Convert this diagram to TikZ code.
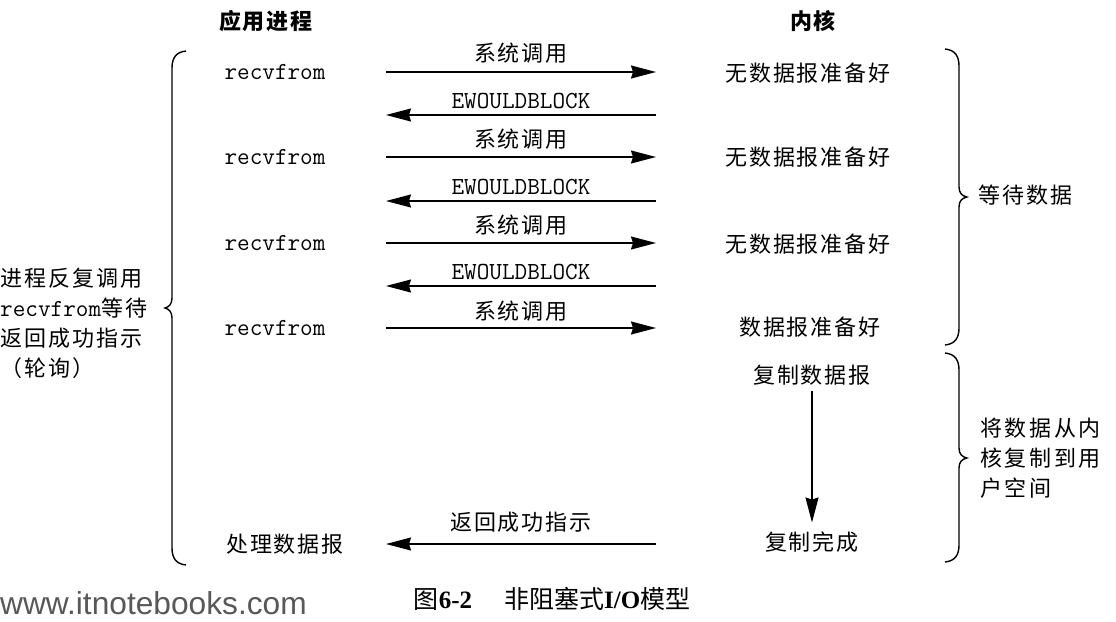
\documentclass[tikz,border=0pt]{standalone}
\usepackage{fontspec}
\setmainfont{Liberation Serif}
\newfontfamily\cjk[LetterSpace=9]{Noto Sans CJK SC}
\newfontfamily\cjkwide[LetterSpace=12]{Noto Sans CJK SC}
\newfontfamily\cjkplain{Noto Sans CJK SC}
\newfontfamily\web{Liberation Sans}
\usetikzlibrary{arrows.meta}
\definecolor{webgray}{RGB}{88,88,88}
\tikzset{
  cj/.style={font=\cjk\fontsize{22}{26}\selectfont, inner sep=0pt},
  hd/.style={font=\cjk\bfseries\fontsize{22}{26}\selectfont, inner sep=0pt},
  mo/.style={font=\ttfamily\fontsize{24.5}{26}\selectfont, inner sep=0pt},
  arr/.style={line width=1.4pt, -{Stealth[length=25pt,width=13pt,inset=2pt]}},
  br/.style={line width=1.4pt},
}
\begin{document}
\begin{tikzpicture}[x=1pt,y=-1pt]
\useasboundingbox (0,0) rectangle (1116,621);

% headers
\node[hd] (hApp) at (266,21) {应用进程};
\node[hd] (hKer) at (813,21) {内核};

% application column
\node[mo] (r1) at (275,72) {recvfrom};
\node[mo] (r2) at (275,157) {recvfrom};
\node[mo] (r3) at (275,243) {recvfrom};
\node[mo] (r4) at (275,328) {recvfrom};
\node[cj] (pd) at (285,544) {处理数据报};

% kernel column
\node[cj] (k1) at (808,73) {无数据报准备好};
\node[cj] (k2) at (808,157) {无数据报准备好};
\node[cj] (k3) at (808,244) {无数据报准备好};
\node[cj] (k4) at (810,327) {数据报准备好};
\node[cj] (kc) at (812,375) {复制数据报};
\node[cj] (kd) at (812,542) {复制完成};

% arrow columns
\coordinate (xL) at (386,0);
\coordinate (xR) at (656,0);
\coordinate (b1) at (0,115);
\coordinate (b2) at (0,201);
\coordinate (b3) at (0,286);

% system calls
\draw[arr] (r1 -| xL) -- node[cj, yshift=19pt] (s1) {系统调用} (r1 -| xR);
\draw[arr] (r2 -| xL) -- node[cj, yshift=18pt] (s2) {系统调用} (r2 -| xR);
\draw[arr] (r3 -| xL) -- node[cj, yshift=18pt] (s3) {系统调用} (r3 -| xR);
\draw[arr] (r4 -| xL) -- node[cj, yshift=17pt] (s4) {系统调用} (r4 -| xR);

% EWOULDBLOCK returns
\draw[arr] (b1 -| xR) -- node[mo, yshift=14pt] (w1) {EWOULDBLOCK} (b1 -| xL);
\draw[arr] (b2 -| xR) -- node[mo, yshift=14pt] (w2) {EWOULDBLOCK} (b2 -| xL);
\draw[arr] (b3 -| xR) -- node[mo, yshift=14pt] (w3) {EWOULDBLOCK} (b3 -| xL);

% success return
\draw[arr] (pd -| xR) -- node[cj, yshift=22pt] (ok) {返回成功指示} (pd -| xL);

% copy arrow
\draw[arr, shorten <=6pt, shorten >=9pt] (kc) -- (kd);

% left brace
\draw[br] (186,51) .. controls (176,52) and (172,58) .. (172,68) -- (172,298)
  .. controls (172,304) and (169,307) .. (165,308)
  .. controls (169,309) and (172,312) .. (172,318) -- (172,548)
  .. controls (172,558) and (176,564) .. (186,565);
\node[anchor=west, align=left, inner sep=0pt, font=\cjk\fontsize{22}{30}\selectfont] (lt) at (0,323)
  {进程反复调用\\{\ttfamily\fontsize{24.5}{30}\selectfont recvfrom}等待\\返回成功指示\\（轮询）};

% right braces
\draw[br] (945,49) .. controls (955,50) and (959,56) .. (959,66) -- (959,187)
  .. controls (959,193) and (962,196) .. (967,197)
  .. controls (962,198) and (959,201) .. (959,207) -- (959,328)
  .. controls (959,338) and (955,344) .. (945,345);
\node[cj, anchor=west] (wait) at (978,195) {等待数据};

\draw[br] (945,353) .. controls (955,354) and (959,360) .. (959,370) -- (959,448)
  .. controls (959,454) and (962,457) .. (967,458)
  .. controls (962,459) and (959,462) .. (959,468) -- (959,545)
  .. controls (959,555) and (955,561) .. (945,562);
\node[anchor=west, align=left, inner sep=0pt, font=\cjkwide\fontsize{22}{30}\selectfont] (copy) at (980,458)
  {将数据从内\\核复制到用\\户空间};

% caption and watermark
\node[inner sep=0pt, font=\fontsize{25}{28}\selectfont] (cap) at (552,599)
  {{\cjkplain 图}\textbf{6-2}\hspace{32pt}{\cjkplain 非阻塞式}\textbf{I/O}{\cjkplain 模型}};
\node[anchor=base west, inner sep=0pt, text=webgray, font=\web\fontsize{31.7}{34}\selectfont] (www) at (0,614) {www.itnotebooks.com};
\end{tikzpicture}
\end{document}
